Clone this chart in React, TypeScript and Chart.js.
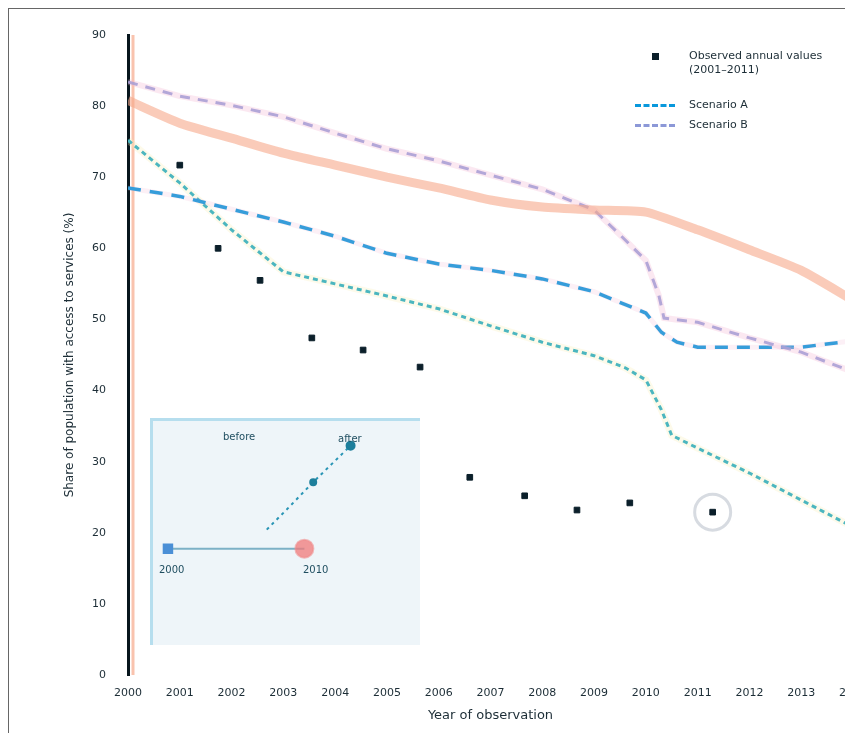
import React, { useEffect, useRef } from "react";
import { Chart, registerables } from "chart.js";

Chart.register(...registerables);

// ---------- main chart data ----------
const orangeX = [2000, 2001, 2002, 2003, 2004, 2005, 2006, 2007, 2008, 2009, 2010, 2011, 2012, 2013, 2014];
const orangeY = [80.8, 77.6, 75.5, 73.4, 71.7, 70.0, 68.5, 66.8, 65.8, 65.4, 65.1, 62.6, 59.8, 56.9, 52.7];

const purpleX = [2000, 2001, 2002, 2003, 2004, 2005, 2006, 2007, 2008, 2009, 2009.5, 2010, 2010.25, 2010.35, 2011, 2012, 2013, 2014];
const purpleY = [83.4, 81.4, 80.1, 78.5, 76.2, 74.0, 72.3, 70.3, 68.3, 65.4, 61.9, 58.3, 53.4, 50.2, 49.6, 47.4, 45.4, 42.6];

const blueX = [2000, 2001, 2002, 2003, 2004, 2005, 2006, 2007, 2008, 2009, 2010, 2010.3, 2010.6, 2011, 2012, 2013, 2014];
const blueY = [68.5, 67.3, 65.5, 63.7, 61.7, 59.3, 57.8, 56.9, 55.7, 53.9, 50.9, 48.2, 46.8, 46.1, 46.1, 46.1, 47.0];

const tealX = [2000, 2001, 2002, 2003, 2004, 2005, 2006, 2007, 2008, 2009, 2009.6, 2010, 2010.3, 2010.5, 2011, 2012, 2013, 2014];
const tealY = [75.2, 69.2, 62.6, 56.7, 55.0, 53.3, 51.5, 49.1, 46.8, 44.9, 43.2, 41.5, 37.3, 33.7, 31.9, 28.4, 24.6, 20.8];

const obsX = [2001.0, 2001.74, 2002.55, 2003.55, 2004.54, 2005.64, 2006.6, 2007.66, 2008.67, 2009.69, 2011.29];
const obsY = [71.7, 60.0, 55.5, 47.4, 45.7, 43.3, 27.8, 25.2, 23.2, 24.2, 22.9];

const seriesNames = ["Observed annual values", "Scenario A", "Scenario B", "Baseline", "Projection"];
const legendNote = "(2001–2011)";
const highlightIndex = obsX.length - 1;

const yTitle = "Share of population with access to services (%)";
const xTitle = "Year of observation";

// ---------- inset data ----------
const insetLineX = [0.56, 5.67];
const insetLineY = [4.3, 4.3];
const insetTealX = [4.26, 5.0, 6.0, 7.4];
const insetTealY = [5.15, 6.04, 7.27, 8.9];
const insetLabels = ["before", "after", "2000", "2010"];

const pts = (xs: number[], ys: number[]) => xs.map((x, i) => ({ x, y: ys[i] }));

const FONT = "'DejaVu Sans', sans-serif";

const axisStripe = {
  id: "axisStripe",
  beforeDatasetsDraw(chart: any) {
    const { ctx, chartArea } = chart;
    ctx.save();
    ctx.strokeStyle = "rgba(248,185,160,0.85)";
    ctx.lineWidth = 3;
    ctx.beginPath();
    ctx.moveTo(chartArea.left + 5, chartArea.top);
    ctx.lineTo(chartArea.left + 5, chartArea.bottom);
    ctx.stroke();
    ctx.restore();
  },
};

function MainChart() {
  const ref = useRef<HTMLCanvasElement>(null);
  useEffect(() => {
    const chart = new Chart(ref.current!, {
      type: "line",
      data: {
        datasets: [
          {
            label: seriesNames[3],
            data: pts(orangeX, orangeY),
            borderColor: "rgba(247,168,138,0.6)",
            borderWidth: 9,
            pointRadius: 0,
            tension: 0.2,
          },
          {
            label: "_pinkA",
            data: pts(purpleX, purpleY),
            borderColor: "rgba(242,180,210,0.3)",
            borderWidth: 6,
            pointRadius: 0,
          },
          {
            label: seriesNames[2],
            data: pts(purpleX, purpleY),
            borderColor: "rgba(140,152,215,0.9)",
            borderWidth: 3,
            borderDash: [10, 8],
            pointRadius: 0,
          },
          {
            label: "_pinkB",
            data: pts(blueX, blueY),
            borderColor: "rgba(242,180,210,0.2)",
            borderWidth: 5,
            pointRadius: 0,
          },
          {
            label: seriesNames[1],
            data: pts(blueX, blueY),
            borderColor: "#0898dc",
            borderWidth: 3.5,
            borderDash: [13, 9],
            pointRadius: 0,
          },
          {
            label: "_glow",
            data: pts(tealX, tealY),
            borderColor: "rgba(250,238,185,0.3)",
            borderWidth: 7,
            pointRadius: 0,
          },
          {
            label: seriesNames[4],
            data: pts(tealX, tealY),
            borderColor: "#009ec2",
            borderWidth: 3,
            borderDash: [5, 4],
            pointRadius: 0,
          },
          {
            label: seriesNames[0],
            data: pts(obsX, obsY),
            showLine: false,
            pointStyle: "rect",
            pointRadius: 4,
            backgroundColor: "#0b1f2a",
            borderColor: "#0b1f2a",
          },
          {
            label: "_ring",
            data: [{ x: obsX[highlightIndex], y: obsY[highlightIndex] }],
            showLine: false,
            pointRadius: 18,
            backgroundColor: "rgba(0,0,0,0)",
            borderColor: "rgba(205,210,218,0.8)",
            borderWidth: 3,
          },
        ],
      },
      options: {
        animation: false,
        responsive: false,
        maintainAspectRatio: false,
        layout: { autoPadding: false, padding: { left: 50, top: 26, right: 0, bottom: 6 } },
        plugins: { legend: { display: false }, tooltip: { enabled: false } },
        scales: {
          x: {
            type: "linear",
            min: 2000,
            max: 2014,
            grid: { display: false },
            border: { display: false },
            ticks: {
              stepSize: 1,
              color: "#1c2d36",
              font: { family: FONT, size: 11 },
              padding: 4,
              callback: (v: any) => String(v),
            },
            title: { display: true, text: xTitle, color: "#1c2d36", font: { family: FONT, size: 13 } },
            afterFit: (s: any) => {
              s.height = 52;
              s.paddingLeft = 0;
              s.paddingRight = 0;
            },
          },
          y: {
            min: 0,
            max: 90,
            grid: { display: false },
            border: { display: true, color: "#07161d", width: 3 },
            ticks: {
              stepSize: 10,
              color: "#1c2d36",
              font: { family: FONT, size: 11 },
              padding: 14,
            },
            title: { display: true, text: yTitle, color: "#1c2d36", font: { family: FONT, size: 12 } },
            afterFit: (s: any) => {
              s.width = 69;
              s.paddingTop = 0;
              s.paddingBottom = 0;
            },
          },
        },
      },
      plugins: [axisStripe],
    });
    return () => chart.destroy();
  }, []);
  return <canvas ref={ref} width={844} height={724} style={{ display: "block" }} />;
}

function InsetChart() {
  const ref = useRef<HTMLCanvasElement>(null);
  useEffect(() => {
    const chart = new Chart(ref.current!, {
      type: "line",
      data: {
        datasets: [
          {
            label: "change",
            data: pts(insetLineX, insetLineY),
            borderColor: "rgba(95,160,185,0.8)",
            borderWidth: 2,
            pointRadius: [6, 9],
            pointStyle: ["rect", "circle"],
            pointBackgroundColor: ["#4a8fd6", "rgba(240,120,120,0.75)"],
            pointBorderColor: ["#4a8fd6", "rgba(240,140,140,0.6)"],
          },
          {
            label: "trend",
            data: pts(insetTealX, insetTealY),
            borderColor: "#2a95b5",
            borderWidth: 2,
            borderDash: [3, 4],
            pointRadius: [0, 0, 3, 4],
            pointBackgroundColor: "#1d7f9c",
            pointBorderColor: "#1d7f9c",
          },
        ],
      },
      options: {
        animation: false,
        responsive: false,
        maintainAspectRatio: false,
        layout: { autoPadding: false, padding: 0 },
        plugins: { legend: { display: false }, tooltip: { enabled: false } },
        scales: {
          x: { type: "linear", min: 0, max: 10, display: false },
          y: { min: 0, max: 10, display: false },
        },
      },
    });
    return () => chart.destroy();
  }, []);
  return <canvas ref={ref} width={267} height={224} style={{ display: "block" }} />;
}

const lbl: React.CSSProperties = { position: "absolute", fontFamily: FONT, fontSize: 10, color: "#1f4e60", whiteSpace: "nowrap" };

export default function App() {
  return (
    <div
      style={{
        position: "relative",
        width: 844,
        height: 724,
        borderTop: "1px solid #666",
        borderLeft: "1px solid #666",
        background: "#fff",
        overflow: "hidden",
      }}
    >
      <MainChart />
      {/* inset */}
      <div
        style={{
          position: "absolute",
          left: 141,
          top: 409,
          width: 267,
          height: 224,
          background: "#eef5f9",
          borderTop: "3px solid #b6deee",
          borderLeft: "3px solid #b6deee",
        }}
      >
        <InsetChart />
        <span style={{ ...lbl, left: 70, top: 10 }}>{insetLabels[0]}</span>
        <span style={{ ...lbl, left: 185, top: 12 }}>{insetLabels[1]}</span>
        <span style={{ ...lbl, left: 6, top: 143 }}>{insetLabels[2]}</span>
        <span style={{ ...lbl, left: 150, top: 143 }}>{insetLabels[3]}</span>
      </div>
      {/* legend */}
      <div style={{ position: "absolute", left: 626, top: 40, fontFamily: FONT, fontSize: 11, color: "#1c2d36", lineHeight: "14px" }}>
        <div style={{ display: "flex", alignItems: "flex-start" }}>
          <div style={{ width: 40, display: "flex", justifyContent: "center", paddingTop: 4 }}>
            <div style={{ width: 7, height: 7, background: "#0b1f2a" }} />
          </div>
          <div style={{ marginLeft: 14 }}>
            {seriesNames[0]}
            <br />
            {legendNote}
          </div>
        </div>
        <div style={{ display: "flex", alignItems: "center", marginTop: 21 }}>
          <div style={{ width: 40, borderTop: "3px dashed #0898dc" }} />
          <div style={{ marginLeft: 14 }}>{seriesNames[1]}</div>
        </div>
        <div style={{ display: "flex", alignItems: "center", marginTop: 6 }}>
          <div style={{ width: 40, borderTop: "3px dashed #8c98d7" }} />
          <div style={{ marginLeft: 14 }}>{seriesNames[2]}</div>
        </div>
      </div>
    </div>
  );
}
